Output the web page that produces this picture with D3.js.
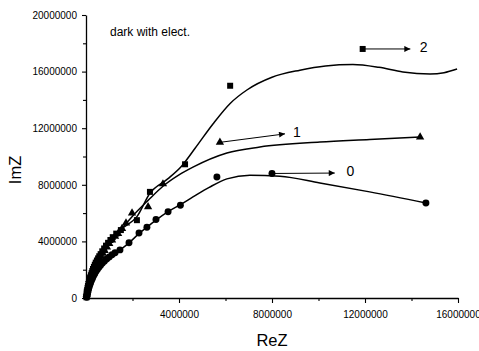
<!DOCTYPE html>
<html>
<head>
<meta charset="utf-8">
<script src="https://cdn.jsdelivr.net/npm/d3@7"></script>
<style>
  html, body { margin: 0; padding: 0; background: #fff; }
  svg { display: block; font-family: "Liberation Sans", Arial, sans-serif; }
</style>
</head>
<body>
<svg id="chart" width="479" height="351"></svg>
<script>
// ---- data (ReZ, ImZ) ----
const xTicks = [4e6, 8e6, 12e6, 16e6];
const xMinor = [2e6, 6e6, 10e6, 14e6];
const yTicks = [0, 4e6, 8e6, 12e6, 16e6, 20e6];
const yMinor = [2e6, 6e6, 10e6, 14e6, 18e6];

// measured points, series "0" (circles)
const pts0 = [[0.03e6,0.05e6],[0.05e6,0.2e6],[0.07e6,0.35e6],[0.09e6,0.5e6],[0.11e6,0.65e6],[0.14e6,0.8e6],[0.17e6,0.95e6],[0.2e6,1.1e6],[0.24e6,1.25e6],[0.28e6,1.4e6],[0.32e6,1.55e6],[0.37e6,1.7e6],[0.42e6,1.85e6],[0.48e6,2.0e6],[0.55e6,2.15e6],[0.62e6,2.3e6],[0.7e6,2.45e6],[0.79e6,2.6e6],[0.89e6,2.75e6],[1.0e6,2.9e6],[1.12e6,3.05e6],[1.25e6,3.2e6],[1.46e6,3.4e6],[1.85e6,3.9e6],[2.28e6,4.6e6],[2.62e6,5.0e6],[3.01e6,5.55e6],[3.53e6,6.1e6],[4.06e6,6.55e6],[5.63e6,8.55e6],[14.62e6,6.71e6]];
// series "1" (triangles)
const pts1 = [[0.02e6,0.1e6],[0.03e6,0.25e6],[0.04e6,0.4e6],[0.05e6,0.55e6],[0.06e6,0.7e6],[0.08e6,0.85e6],[0.1e6,1.0e6],[0.12e6,1.15e6],[0.14e6,1.3e6],[0.17e6,1.45e6],[0.2e6,1.6e6],[0.23e6,1.75e6],[0.27e6,1.9e6],[0.31e6,2.05e6],[0.35e6,2.2e6],[0.4e6,2.35e6],[0.45e6,2.5e6],[0.51e6,2.65e6],[0.57e6,2.8e6],[0.64e6,2.95e6],[0.72e6,3.15e6],[0.8e6,3.35e6],[0.9e6,3.6e6],[1.0e6,3.85e6],[1.12e6,4.1e6],[1.25e6,4.35e6],[1.38e6,4.55e6],[1.55e6,4.9e6],[1.72e6,5.3e6],[1.98e6,6.0e6],[2.67e6,6.45e6],[3.31e6,8.06e6],[14.37e6,11.38e6]];
// series "2" (squares)
const pts2 = [[0.02e6,0.05e6],[0.03e6,0.15e6],[0.04e6,0.25e6],[0.05e6,0.35e6],[0.06e6,0.45e6],[0.07e6,0.55e6],[0.08e6,0.65e6],[0.09e6,0.75e6],[0.1e6,0.85e6],[0.12e6,1.0e6],[0.14e6,1.15e6],[0.16e6,1.3e6],[0.18e6,1.45e6],[0.21e6,1.6e6],[0.24e6,1.75e6],[0.27e6,1.9e6],[0.3e6,2.05e6],[0.34e6,2.2e6],[0.38e6,2.35e6],[0.42e6,2.5e6],[0.47e6,2.65e6],[0.52e6,2.8e6],[0.57e6,2.95e6],[0.63e6,3.1e6],[0.7e6,3.3e6],[0.78e6,3.5e6],[0.86e6,3.7e6],[0.95e6,3.9e6],[1.05e6,4.1e6],[1.15e6,4.3e6],[1.3e6,4.55e6],[1.5e6,4.8e6],[2.19e6,5.5e6],[2.75e6,7.5e6],[4.26e6,9.45e6],[6.2e6,15.0e6]];

// fitted curves
const fit0 = [[0,0],[0.07e6,0.35e6],[0.17e6,0.95e6],[0.32e6,1.55e6],[0.48e6,2.0e6],[0.7e6,2.45e6],[1.0e6,2.9e6],[1.25e6,3.2e6],[1.46e6,3.4e6],[1.85e6,3.9e6],[2.28e6,4.55e6],[2.62e6,5.0e6],[3.01e6,5.5e6],[3.53e6,6.1e6],[4.06e6,6.6e6],[4.6e6,7.14e6],[5.3e6,7.82e6],[6.06e6,8.42e6],[7.05e6,8.67e6],[8.34e6,8.6e6],[10.06e6,8.13e6],[12.2e6,7.5e6],[14.62e6,6.71e6]];
const fit1 = [[0,0],[0.04e6,0.4e6],[0.1e6,1.0e6],[0.2e6,1.6e6],[0.35e6,2.2e6],[0.57e6,2.8e6],[0.8e6,3.35e6],[1.12e6,4.1e6],[1.38e6,4.6e6],[1.98e6,5.75e6],[2.67e6,6.9e6],[3.31e6,7.9e6],[4.0e6,8.7e6],[4.6e6,9.25e6],[6.06e6,10.25e6],[7.48e6,10.67e6],[10.06e6,11.02e6],[12.2e6,11.2e6],[14.37e6,11.38e6]];
const fit2 = [[0,0],[0.05e6,0.35e6],[0.12e6,1.0e6],[0.24e6,1.75e6],[0.42e6,2.5e6],[0.63e6,3.1e6],[0.95e6,3.9e6],[1.5e6,4.85e6],[2.19e6,5.75e6],[2.75e6,7.4e6],[3.5e6,8.4e6],[4.1e6,9.3e6],[4.7e6,10.6e6],[5.46e6,12.3e6],[6.2e6,13.75e6],[6.92e6,14.7e6],[8.0e6,15.6e6],[9.2e6,16.1e6],[10.3e6,16.4e6],[11.48e6,16.5e6],[12.6e6,16.3e6],[13.63e6,15.97e6],[14.8e6,15.83e6],[15.4e6,15.92e6],[15.96e6,16.18e6]];

// annotations (marker, arrow end, label)
const noteNames = ["0", "1", "2"];
const noteSymbols = ["circle", "triangle", "square"];
const noteMarkers = [[8.0e6, 8.8e6], [5.76e6, 11.0e6], [11.9e6, 17.6e6]];
const noteArrowEnds = [[10.7e6, 8.83e6], [8.56e6, 11.6e6], [13.95e6, 17.6e6]];
const noteLabels = [[11.2e6, 8.6e6], [8.9e6, 11.4e6], [14.35e6, 17.35e6]];
const title = "dark with elect.";

// ---- drawing ----
const svg = d3.select("#chart");
const x = d3.scaleLinear().domain([0, 16e6]).range([86, 458]);
const y = d3.scaleLinear().domain([0, 20e6]).range([298, 15]);
const fmt = d3.format("d");

// axes
const gx = svg.append("g").attr("transform", "translate(0,298)")
  .call(d3.axisBottom(x).tickValues(xTicks).tickFormat(fmt).tickSize(5).tickPadding(8).tickSizeOuter(0));
svg.append("g").attr("transform", "translate(0,298)")
  .call(d3.axisBottom(x).tickValues(xMinor).tickFormat("").tickSize(3).tickSizeOuter(0))
  .select(".domain").remove();
svg.append("g").attr("transform", "translate(86,0)")
  .call(d3.axisLeft(y).tickValues(yTicks).tickFormat(fmt).tickSize(4).tickPadding(5).tickSizeOuter(0));
svg.append("g").attr("transform", "translate(86,0)")
  .call(d3.axisLeft(y).tickValues(yMinor).tickFormat("").tickSize(3).tickSizeOuter(0))
  .select(".domain").remove();
svg.selectAll(".domain").attr("stroke", "#000").attr("stroke-width", 1.3);
svg.selectAll(".tick line").attr("stroke", "#000").attr("stroke-width", 1.1);
svg.selectAll(".tick text").attr("font-size", 10).attr("fill", "#000")
  .attr("font-family", "Liberation Sans, Arial, sans-serif");
gx.selectAll(".tick text").attr("dy", "0.71em");

// axis titles
svg.append("text").attr("x", 272).attr("y", 346).attr("text-anchor", "middle")
  .attr("font-size", 16.5).attr("fill", "#000").text("ReZ");
svg.append("text").attr("transform", "translate(21,170) rotate(-90)").attr("text-anchor", "middle")
  .attr("font-size", 16.5).attr("fill", "#000").text("ImZ");

// title
svg.append("text").attr("x", 110).attr("y", 36).attr("font-size", 12).attr("fill", "#000").text(title);

// fit lines
const line = d3.line().x(d => x(d[0])).y(d => y(d[1])).curve(d3.curveMonotoneX);
[fit0, fit1, fit2].forEach(f => {
  svg.append("path").attr("d", line(f)).attr("fill", "none").attr("stroke", "#000").attr("stroke-width", 1.5);
});

// markers
const symFor = {circle: d3.symbolCircle, triangle: d3.symbolTriangle, square: d3.symbolSquare};
const sizeFor = {circle: 38, triangle: 30, square: 36};
function drawMarkers(data, sym) {
  svg.append("g").selectAll("path").data(data).join("path")
    .attr("transform", d => `translate(${x(d[0])},${y(d[1])})`)
    .attr("d", d3.symbol().type(symFor[sym]).size(sizeFor[sym])())
    .attr("fill", "#000");
}
drawMarkers(pts0, "circle");
drawMarkers(pts1, "triangle");
drawMarkers(pts2, "square");

// annotations
svg.append("defs").append("marker").attr("id", "arr").attr("viewBox", "0 0 10 10")
  .attr("refX", 10).attr("refY", 5).attr("markerWidth", 8).attr("markerHeight", 6)
  .attr("markerUnits", "userSpaceOnUse").attr("orient", "auto")
  .append("path").attr("d", "M0,0 L10,5 L0,10 Z").attr("fill", "#000");
noteNames.forEach((name, i) => {
  const m = noteMarkers[i], e = noteArrowEnds[i], l = noteLabels[i];
  svg.append("line").attr("x1", x(m[0])).attr("y1", y(m[1]))
    .attr("x2", x(e[0])).attr("y2", y(e[1]))
    .attr("stroke", "#000").attr("stroke-width", 1).attr("marker-end", "url(#arr)");
  svg.append("path").attr("transform", `translate(${x(m[0])},${y(m[1])})`)
    .attr("d", d3.symbol().type(symFor[noteSymbols[i]]).size(sizeFor[noteSymbols[i]])()).attr("fill", "#000");
  svg.append("text").attr("x", x(l[0])).attr("y", y(l[1]))
    .attr("font-size", 14).attr("fill", "#000").text(name);
});
</script>
</body>
</html>
